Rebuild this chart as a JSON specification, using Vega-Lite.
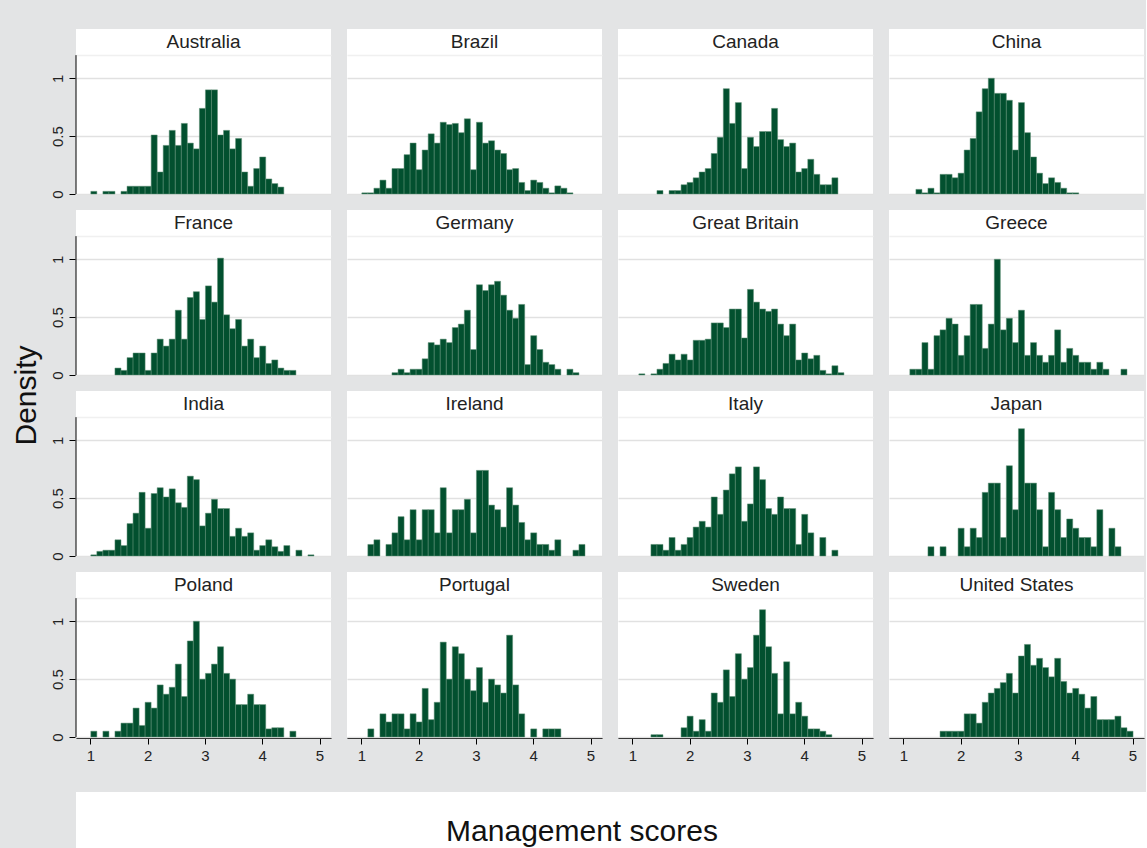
{
"$schema": "https://vega.github.io/schema/vega-lite/v6.json",
"background": "#e3e4e5",
"padding": {"left": 12, "top": 28, "right": 0, "bottom": 0},
"config": {"view": {"stroke": null, "fill": "white"}, "font": "Liberation Sans", "header": {"labels": false, "title": null}, "headerFacet": {"labels": false, "title": null}},
"concat": [
{
"data": {"values": [
{"country":"Australia","score":1.000,"density":0.023},{"country":"Australia","score":1.211,"density":0.023},{"country":"Australia","score":1.316,"density":0.023},{"country":"Australia","score":1.526,"density":0.023},{"country":"Australia","score":1.632,"density":0.067},{"country":"Australia","score":1.737,"density":0.067},{"country":"Australia","score":1.842,"density":0.067},{"country":"Australia","score":1.947,"density":0.067},{"country":"Australia","score":2.053,"density":0.51},{"country":"Australia","score":2.158,"density":0.19},{"country":"Australia","score":2.263,"density":0.42},{"country":"Australia","score":2.368,"density":0.55},{"country":"Australia","score":2.474,"density":0.42},{"country":"Australia","score":2.579,"density":0.61},{"country":"Australia","score":2.684,"density":0.44},{"country":"Australia","score":2.789,"density":0.39},{"country":"Australia","score":2.895,"density":0.74},{"country":"Australia","score":3.000,"density":0.90},{"country":"Australia","score":3.105,"density":0.90},{"country":"Australia","score":3.211,"density":0.51},{"country":"Australia","score":3.316,"density":0.55},{"country":"Australia","score":3.421,"density":0.39},{"country":"Australia","score":3.526,"density":0.48},{"country":"Australia","score":3.632,"density":0.19},{"country":"Australia","score":3.737,"density":0.067},{"country":"Australia","score":3.842,"density":0.22},{"country":"Australia","score":3.947,"density":0.32},{"country":"Australia","score":4.053,"density":0.13},{"country":"Australia","score":4.158,"density":0.09},{"country":"Australia","score":4.263,"density":0.06},
{"country":"Brazil","score":1.000,"density":0.01},{"country":"Brazil","score":1.105,"density":0.01},{"country":"Brazil","score":1.211,"density":0.05},{"country":"Brazil","score":1.316,"density":0.12},{"country":"Brazil","score":1.421,"density":0.05},{"country":"Brazil","score":1.526,"density":0.22},{"country":"Brazil","score":1.632,"density":0.22},{"country":"Brazil","score":1.737,"density":0.34},{"country":"Brazil","score":1.842,"density":0.44},{"country":"Brazil","score":1.947,"density":0.21},{"country":"Brazil","score":2.053,"density":0.38},{"country":"Brazil","score":2.158,"density":0.52},{"country":"Brazil","score":2.263,"density":0.44},{"country":"Brazil","score":2.368,"density":0.62},{"country":"Brazil","score":2.474,"density":0.60},{"country":"Brazil","score":2.579,"density":0.61},{"country":"Brazil","score":2.684,"density":0.53},{"country":"Brazil","score":2.789,"density":0.65},{"country":"Brazil","score":2.895,"density":0.21},{"country":"Brazil","score":3.000,"density":0.62},{"country":"Brazil","score":3.105,"density":0.44},{"country":"Brazil","score":3.211,"density":0.46},{"country":"Brazil","score":3.316,"density":0.38},{"country":"Brazil","score":3.421,"density":0.35},{"country":"Brazil","score":3.526,"density":0.21},{"country":"Brazil","score":3.632,"density":0.22},{"country":"Brazil","score":3.737,"density":0.10},{"country":"Brazil","score":3.842,"density":0.03},{"country":"Brazil","score":3.947,"density":0.12},{"country":"Brazil","score":4.053,"density":0.10},{"country":"Brazil","score":4.158,"density":0.05},{"country":"Brazil","score":4.263,"density":0.01},{"country":"Brazil","score":4.368,"density":0.07},{"country":"Brazil","score":4.474,"density":0.05},{"country":"Brazil","score":4.579,"density":0.01},
{"country":"Canada","score":1.421,"density":0.03},{"country":"Canada","score":1.632,"density":0.03},{"country":"Canada","score":1.737,"density":0.03},{"country":"Canada","score":1.842,"density":0.08},{"country":"Canada","score":1.947,"density":0.10},{"country":"Canada","score":2.053,"density":0.14},{"country":"Canada","score":2.158,"density":0.19},{"country":"Canada","score":2.263,"density":0.22},{"country":"Canada","score":2.368,"density":0.35},{"country":"Canada","score":2.474,"density":0.49},{"country":"Canada","score":2.579,"density":0.91},{"country":"Canada","score":2.684,"density":0.61},{"country":"Canada","score":2.789,"density":0.79},{"country":"Canada","score":2.895,"density":0.22},{"country":"Canada","score":3.000,"density":0.49},{"country":"Canada","score":3.105,"density":0.41},{"country":"Canada","score":3.211,"density":0.54},{"country":"Canada","score":3.316,"density":0.54},{"country":"Canada","score":3.421,"density":0.74},{"country":"Canada","score":3.526,"density":0.47},{"country":"Canada","score":3.632,"density":0.41},{"country":"Canada","score":3.737,"density":0.44},{"country":"Canada","score":3.842,"density":0.19},{"country":"Canada","score":3.947,"density":0.22},{"country":"Canada","score":4.053,"density":0.30},{"country":"Canada","score":4.158,"density":0.17},{"country":"Canada","score":4.263,"density":0.08},{"country":"Canada","score":4.368,"density":0.08},{"country":"Canada","score":4.474,"density":0.14},
{"country":"China","score":1.211,"density":0.04},{"country":"China","score":1.316,"density":0.01},{"country":"China","score":1.421,"density":0.05},{"country":"China","score":1.526,"density":0.01},{"country":"China","score":1.632,"density":0.17},{"country":"China","score":1.737,"density":0.17},{"country":"China","score":1.842,"density":0.14},{"country":"China","score":1.947,"density":0.18},{"country":"China","score":2.053,"density":0.38},{"country":"China","score":2.158,"density":0.48},{"country":"China","score":2.263,"density":0.71},{"country":"China","score":2.368,"density":0.91},{"country":"China","score":2.474,"density":1.00},{"country":"China","score":2.579,"density":0.87},{"country":"China","score":2.684,"density":0.87},{"country":"China","score":2.789,"density":0.81},{"country":"China","score":2.895,"density":0.38},{"country":"China","score":3.000,"density":0.79},{"country":"China","score":3.105,"density":0.53},{"country":"China","score":3.211,"density":0.32},{"country":"China","score":3.316,"density":0.18},{"country":"China","score":3.421,"density":0.09},{"country":"China","score":3.526,"density":0.14},{"country":"China","score":3.632,"density":0.10},{"country":"China","score":3.737,"density":0.05},{"country":"China","score":3.842,"density":0.01},{"country":"China","score":3.947,"density":0.01},
{"country":"France","score":1.421,"density":0.06},{"country":"France","score":1.526,"density":0.04},{"country":"France","score":1.632,"density":0.15},{"country":"France","score":1.737,"density":0.19},{"country":"France","score":1.842,"density":0.19},{"country":"France","score":1.947,"density":0.04},{"country":"France","score":2.053,"density":0.19},{"country":"France","score":2.158,"density":0.31},{"country":"France","score":2.263,"density":0.25},{"country":"France","score":2.368,"density":0.31},{"country":"France","score":2.474,"density":0.56},{"country":"France","score":2.579,"density":0.31},{"country":"France","score":2.684,"density":0.67},{"country":"France","score":2.789,"density":0.72},{"country":"France","score":2.895,"density":0.48},{"country":"France","score":3.000,"density":0.77},{"country":"France","score":3.105,"density":0.63},{"country":"France","score":3.211,"density":1.01},{"country":"France","score":3.316,"density":0.52},{"country":"France","score":3.421,"density":0.40},{"country":"France","score":3.526,"density":0.48},{"country":"France","score":3.632,"density":0.25},{"country":"France","score":3.737,"density":0.31},{"country":"France","score":3.842,"density":0.15},{"country":"France","score":3.947,"density":0.25},{"country":"France","score":4.053,"density":0.10},{"country":"France","score":4.158,"density":0.13},{"country":"France","score":4.263,"density":0.06},{"country":"France","score":4.368,"density":0.04},{"country":"France","score":4.474,"density":0.04},
{"country":"Germany","score":1.526,"density":0.02},{"country":"Germany","score":1.632,"density":0.05},{"country":"Germany","score":1.737,"density":0.02},{"country":"Germany","score":1.842,"density":0.05},{"country":"Germany","score":1.947,"density":0.05},{"country":"Germany","score":2.053,"density":0.14},{"country":"Germany","score":2.158,"density":0.28},{"country":"Germany","score":2.263,"density":0.26},{"country":"Germany","score":2.368,"density":0.31},{"country":"Germany","score":2.474,"density":0.28},{"country":"Germany","score":2.579,"density":0.41},{"country":"Germany","score":2.684,"density":0.44},{"country":"Germany","score":2.789,"density":0.56},{"country":"Germany","score":2.895,"density":0.22},{"country":"Germany","score":3.000,"density":0.78},{"country":"Germany","score":3.105,"density":0.73},{"country":"Germany","score":3.211,"density":0.78},{"country":"Germany","score":3.316,"density":0.81},{"country":"Germany","score":3.421,"density":0.69},{"country":"Germany","score":3.526,"density":0.56},{"country":"Germany","score":3.632,"density":0.49},{"country":"Germany","score":3.737,"density":0.61},{"country":"Germany","score":3.842,"density":0.09},{"country":"Germany","score":3.947,"density":0.34},{"country":"Germany","score":4.053,"density":0.22},{"country":"Germany","score":4.158,"density":0.11},{"country":"Germany","score":4.263,"density":0.09},{"country":"Germany","score":4.368,"density":0.05},{"country":"Germany","score":4.579,"density":0.05},{"country":"Germany","score":4.684,"density":0.02},
{"country":"Great Britain","score":1.105,"density":0.01},{"country":"Great Britain","score":1.316,"density":0.01},{"country":"Great Britain","score":1.421,"density":0.05},{"country":"Great Britain","score":1.526,"density":0.10},{"country":"Great Britain","score":1.632,"density":0.18},{"country":"Great Britain","score":1.737,"density":0.13},{"country":"Great Britain","score":1.842,"density":0.18},{"country":"Great Britain","score":1.947,"density":0.13},{"country":"Great Britain","score":2.053,"density":0.30},{"country":"Great Britain","score":2.158,"density":0.30},{"country":"Great Britain","score":2.263,"density":0.31},{"country":"Great Britain","score":2.368,"density":0.45},{"country":"Great Britain","score":2.474,"density":0.45},{"country":"Great Britain","score":2.579,"density":0.41},{"country":"Great Britain","score":2.684,"density":0.57},{"country":"Great Britain","score":2.789,"density":0.57},{"country":"Great Britain","score":2.895,"density":0.32},{"country":"Great Britain","score":3.000,"density":0.74},{"country":"Great Britain","score":3.105,"density":0.63},{"country":"Great Britain","score":3.211,"density":0.57},{"country":"Great Britain","score":3.316,"density":0.55},{"country":"Great Britain","score":3.421,"density":0.57},{"country":"Great Britain","score":3.526,"density":0.44},{"country":"Great Britain","score":3.632,"density":0.34},{"country":"Great Britain","score":3.737,"density":0.44},{"country":"Great Britain","score":3.842,"density":0.13},{"country":"Great Britain","score":3.947,"density":0.19},{"country":"Great Britain","score":4.053,"density":0.14},{"country":"Great Britain","score":4.158,"density":0.17},{"country":"Great Britain","score":4.263,"density":0.04},{"country":"Great Britain","score":4.368,"density":0.01},{"country":"Great Britain","score":4.474,"density":0.08},{"country":"Great Britain","score":4.579,"density":0.02},
{"country":"Greece","score":1.105,"density":0.05},{"country":"Greece","score":1.211,"density":0.05},{"country":"Greece","score":1.316,"density":0.28},{"country":"Greece","score":1.421,"density":0.05},{"country":"Greece","score":1.526,"density":0.34},{"country":"Greece","score":1.632,"density":0.39},{"country":"Greece","score":1.737,"density":0.49},{"country":"Greece","score":1.842,"density":0.44},{"country":"Greece","score":1.947,"density":0.17},{"country":"Greece","score":2.053,"density":0.34},{"country":"Greece","score":2.158,"density":0.61},{"country":"Greece","score":2.263,"density":0.61},{"country":"Greece","score":2.368,"density":0.23},{"country":"Greece","score":2.474,"density":0.44},{"country":"Greece","score":2.579,"density":1.00},{"country":"Greece","score":2.684,"density":0.39},{"country":"Greece","score":2.789,"density":0.49},{"country":"Greece","score":2.895,"density":0.28},{"country":"Greece","score":3.000,"density":0.56},{"country":"Greece","score":3.105,"density":0.17},{"country":"Greece","score":3.211,"density":0.28},{"country":"Greece","score":3.316,"density":0.17},{"country":"Greece","score":3.421,"density":0.11},{"country":"Greece","score":3.526,"density":0.17},{"country":"Greece","score":3.632,"density":0.39},{"country":"Greece","score":3.737,"density":0.11},{"country":"Greece","score":3.842,"density":0.23},{"country":"Greece","score":3.947,"density":0.17},{"country":"Greece","score":4.053,"density":0.11},{"country":"Greece","score":4.158,"density":0.11},{"country":"Greece","score":4.263,"density":0.05},{"country":"Greece","score":4.368,"density":0.11},{"country":"Greece","score":4.474,"density":0.05},{"country":"Greece","score":4.789,"density":0.05},
{"country":"India","score":1.000,"density":0.01},{"country":"India","score":1.105,"density":0.04},{"country":"India","score":1.211,"density":0.05},{"country":"India","score":1.316,"density":0.05},{"country":"India","score":1.421,"density":0.14},{"country":"India","score":1.526,"density":0.09},{"country":"India","score":1.632,"density":0.28},{"country":"India","score":1.737,"density":0.37},{"country":"India","score":1.842,"density":0.55},{"country":"India","score":1.947,"density":0.24},{"country":"India","score":2.053,"density":0.54},{"country":"India","score":2.158,"density":0.59},{"country":"India","score":2.263,"density":0.51},{"country":"India","score":2.368,"density":0.58},{"country":"India","score":2.474,"density":0.46},{"country":"India","score":2.579,"density":0.42},{"country":"India","score":2.684,"density":0.69},{"country":"India","score":2.789,"density":0.66},{"country":"India","score":2.895,"density":0.26},{"country":"India","score":3.000,"density":0.37},{"country":"India","score":3.105,"density":0.49},{"country":"India","score":3.211,"density":0.41},{"country":"India","score":3.316,"density":0.41},{"country":"India","score":3.421,"density":0.17},{"country":"India","score":3.526,"density":0.24},{"country":"India","score":3.632,"density":0.17},{"country":"India","score":3.737,"density":0.20},{"country":"India","score":3.842,"density":0.05},{"country":"India","score":3.947,"density":0.09},{"country":"India","score":4.053,"density":0.14},{"country":"India","score":4.158,"density":0.08},{"country":"India","score":4.263,"density":0.04},{"country":"India","score":4.368,"density":0.09},{"country":"India","score":4.579,"density":0.05},{"country":"India","score":4.789,"density":0.01},
{"country":"Ireland","score":1.105,"density":0.10},{"country":"Ireland","score":1.211,"density":0.14},{"country":"Ireland","score":1.421,"density":0.10},{"country":"Ireland","score":1.526,"density":0.20},{"country":"Ireland","score":1.632,"density":0.34},{"country":"Ireland","score":1.737,"density":0.14},{"country":"Ireland","score":1.842,"density":0.40},{"country":"Ireland","score":1.947,"density":0.14},{"country":"Ireland","score":2.053,"density":0.40},{"country":"Ireland","score":2.158,"density":0.40},{"country":"Ireland","score":2.263,"density":0.20},{"country":"Ireland","score":2.368,"density":0.59},{"country":"Ireland","score":2.474,"density":0.20},{"country":"Ireland","score":2.579,"density":0.40},{"country":"Ireland","score":2.684,"density":0.40},{"country":"Ireland","score":2.789,"density":0.49},{"country":"Ireland","score":2.895,"density":0.20},{"country":"Ireland","score":3.000,"density":0.74},{"country":"Ireland","score":3.105,"density":0.74},{"country":"Ireland","score":3.211,"density":0.44},{"country":"Ireland","score":3.316,"density":0.40},{"country":"Ireland","score":3.421,"density":0.25},{"country":"Ireland","score":3.526,"density":0.59},{"country":"Ireland","score":3.632,"density":0.44},{"country":"Ireland","score":3.737,"density":0.29},{"country":"Ireland","score":3.842,"density":0.14},{"country":"Ireland","score":3.947,"density":0.20},{"country":"Ireland","score":4.053,"density":0.10},{"country":"Ireland","score":4.158,"density":0.10},{"country":"Ireland","score":4.263,"density":0.05},{"country":"Ireland","score":4.368,"density":0.14},{"country":"Ireland","score":4.684,"density":0.05},{"country":"Ireland","score":4.789,"density":0.10},
{"country":"Italy","score":1.316,"density":0.10},{"country":"Italy","score":1.421,"density":0.10},{"country":"Italy","score":1.526,"density":0.05},{"country":"Italy","score":1.632,"density":0.16},{"country":"Italy","score":1.737,"density":0.05},{"country":"Italy","score":1.842,"density":0.10},{"country":"Italy","score":1.947,"density":0.16},{"country":"Italy","score":2.053,"density":0.25},{"country":"Italy","score":2.158,"density":0.30},{"country":"Italy","score":2.263,"density":0.25},{"country":"Italy","score":2.368,"density":0.51},{"country":"Italy","score":2.474,"density":0.36},{"country":"Italy","score":2.579,"density":0.57},{"country":"Italy","score":2.684,"density":0.71},{"country":"Italy","score":2.789,"density":0.77},{"country":"Italy","score":2.895,"density":0.30},{"country":"Italy","score":3.000,"density":0.45},{"country":"Italy","score":3.105,"density":0.77},{"country":"Italy","score":3.211,"density":0.66},{"country":"Italy","score":3.316,"density":0.41},{"country":"Italy","score":3.421,"density":0.36},{"country":"Italy","score":3.526,"density":0.51},{"country":"Italy","score":3.632,"density":0.41},{"country":"Italy","score":3.737,"density":0.41},{"country":"Italy","score":3.842,"density":0.10},{"country":"Italy","score":3.947,"density":0.36},{"country":"Italy","score":4.053,"density":0.20},{"country":"Italy","score":4.263,"density":0.16},{"country":"Italy","score":4.474,"density":0.05},
{"country":"Japan","score":1.421,"density":0.08},{"country":"Japan","score":1.632,"density":0.08},{"country":"Japan","score":1.947,"density":0.24},{"country":"Japan","score":2.053,"density":0.08},{"country":"Japan","score":2.158,"density":0.24},{"country":"Japan","score":2.263,"density":0.16},{"country":"Japan","score":2.368,"density":0.55},{"country":"Japan","score":2.474,"density":0.63},{"country":"Japan","score":2.579,"density":0.63},{"country":"Japan","score":2.684,"density":0.16},{"country":"Japan","score":2.789,"density":0.78},{"country":"Japan","score":2.895,"density":0.40},{"country":"Japan","score":3.000,"density":1.10},{"country":"Japan","score":3.105,"density":0.63},{"country":"Japan","score":3.211,"density":0.63},{"country":"Japan","score":3.316,"density":0.40},{"country":"Japan","score":3.421,"density":0.08},{"country":"Japan","score":3.526,"density":0.55},{"country":"Japan","score":3.632,"density":0.40},{"country":"Japan","score":3.737,"density":0.16},{"country":"Japan","score":3.842,"density":0.32},{"country":"Japan","score":3.947,"density":0.24},{"country":"Japan","score":4.053,"density":0.16},{"country":"Japan","score":4.158,"density":0.16},{"country":"Japan","score":4.263,"density":0.08},{"country":"Japan","score":4.368,"density":0.40},{"country":"Japan","score":4.579,"density":0.24},{"country":"Japan","score":4.684,"density":0.08},
{"country":"Poland","score":1.000,"density":0.05},{"country":"Poland","score":1.211,"density":0.05},{"country":"Poland","score":1.421,"density":0.05},{"country":"Poland","score":1.526,"density":0.12},{"country":"Poland","score":1.632,"density":0.12},{"country":"Poland","score":1.737,"density":0.25},{"country":"Poland","score":1.842,"density":0.10},{"country":"Poland","score":1.947,"density":0.30},{"country":"Poland","score":2.053,"density":0.25},{"country":"Poland","score":2.158,"density":0.45},{"country":"Poland","score":2.263,"density":0.37},{"country":"Poland","score":2.368,"density":0.43},{"country":"Poland","score":2.474,"density":0.63},{"country":"Poland","score":2.579,"density":0.35},{"country":"Poland","score":2.684,"density":0.83},{"country":"Poland","score":2.789,"density":1.00},{"country":"Poland","score":2.895,"density":0.50},{"country":"Poland","score":3.000,"density":0.55},{"country":"Poland","score":3.105,"density":0.63},{"country":"Poland","score":3.211,"density":0.78},{"country":"Poland","score":3.316,"density":0.55},{"country":"Poland","score":3.421,"density":0.50},{"country":"Poland","score":3.526,"density":0.28},{"country":"Poland","score":3.632,"density":0.28},{"country":"Poland","score":3.737,"density":0.37},{"country":"Poland","score":3.842,"density":0.28},{"country":"Poland","score":3.947,"density":0.28},{"country":"Poland","score":4.053,"density":0.07},{"country":"Poland","score":4.158,"density":0.08},{"country":"Poland","score":4.263,"density":0.08},{"country":"Poland","score":4.474,"density":0.05},
{"country":"Portugal","score":1.105,"density":0.07},{"country":"Portugal","score":1.316,"density":0.20},{"country":"Portugal","score":1.421,"density":0.13},{"country":"Portugal","score":1.526,"density":0.20},{"country":"Portugal","score":1.632,"density":0.20},{"country":"Portugal","score":1.737,"density":0.07},{"country":"Portugal","score":1.842,"density":0.20},{"country":"Portugal","score":1.947,"density":0.13},{"country":"Portugal","score":2.053,"density":0.42},{"country":"Portugal","score":2.158,"density":0.15},{"country":"Portugal","score":2.263,"density":0.30},{"country":"Portugal","score":2.368,"density":0.82},{"country":"Portugal","score":2.474,"density":0.50},{"country":"Portugal","score":2.579,"density":0.78},{"country":"Portugal","score":2.684,"density":0.72},{"country":"Portugal","score":2.789,"density":0.50},{"country":"Portugal","score":2.895,"density":0.40},{"country":"Portugal","score":3.000,"density":0.60},{"country":"Portugal","score":3.105,"density":0.30},{"country":"Portugal","score":3.211,"density":0.50},{"country":"Portugal","score":3.316,"density":0.45},{"country":"Portugal","score":3.421,"density":0.38},{"country":"Portugal","score":3.526,"density":0.88},{"country":"Portugal","score":3.632,"density":0.45},{"country":"Portugal","score":3.737,"density":0.20},{"country":"Portugal","score":3.947,"density":0.07},{"country":"Portugal","score":4.158,"density":0.07},{"country":"Portugal","score":4.263,"density":0.07},{"country":"Portugal","score":4.368,"density":0.07},
{"country":"Sweden","score":1.316,"density":0.02},{"country":"Sweden","score":1.421,"density":0.02},{"country":"Sweden","score":1.842,"density":0.08},{"country":"Sweden","score":1.947,"density":0.18},{"country":"Sweden","score":2.053,"density":0.05},{"country":"Sweden","score":2.158,"density":0.15},{"country":"Sweden","score":2.263,"density":0.05},{"country":"Sweden","score":2.368,"density":0.38},{"country":"Sweden","score":2.474,"density":0.30},{"country":"Sweden","score":2.579,"density":0.58},{"country":"Sweden","score":2.684,"density":0.35},{"country":"Sweden","score":2.789,"density":0.72},{"country":"Sweden","score":2.895,"density":0.50},{"country":"Sweden","score":3.000,"density":0.60},{"country":"Sweden","score":3.105,"density":0.88},{"country":"Sweden","score":3.211,"density":1.10},{"country":"Sweden","score":3.316,"density":0.78},{"country":"Sweden","score":3.421,"density":0.55},{"country":"Sweden","score":3.526,"density":0.20},{"country":"Sweden","score":3.632,"density":0.65},{"country":"Sweden","score":3.737,"density":0.20},{"country":"Sweden","score":3.842,"density":0.30},{"country":"Sweden","score":3.947,"density":0.18},{"country":"Sweden","score":4.053,"density":0.07},{"country":"Sweden","score":4.158,"density":0.07},{"country":"Sweden","score":4.263,"density":0.05},{"country":"Sweden","score":4.368,"density":0.02},
{"country":"United States","score":1.632,"density":0.05},{"country":"United States","score":1.737,"density":0.05},{"country":"United States","score":1.842,"density":0.05},{"country":"United States","score":1.947,"density":0.05},{"country":"United States","score":2.053,"density":0.20},{"country":"United States","score":2.158,"density":0.20},{"country":"United States","score":2.263,"density":0.12},{"country":"United States","score":2.368,"density":0.30},{"country":"United States","score":2.474,"density":0.38},{"country":"United States","score":2.579,"density":0.42},{"country":"United States","score":2.684,"density":0.47},{"country":"United States","score":2.789,"density":0.55},{"country":"United States","score":2.895,"density":0.38},{"country":"United States","score":3.000,"density":0.70},{"country":"United States","score":3.105,"density":0.80},{"country":"United States","score":3.211,"density":0.62},{"country":"United States","score":3.316,"density":0.68},{"country":"United States","score":3.421,"density":0.60},{"country":"United States","score":3.526,"density":0.52},{"country":"United States","score":3.632,"density":0.68},{"country":"United States","score":3.737,"density":0.48},{"country":"United States","score":3.842,"density":0.38},{"country":"United States","score":3.947,"density":0.42},{"country":"United States","score":4.053,"density":0.37},{"country":"United States","score":4.158,"density":0.25},{"country":"United States","score":4.263,"density":0.35},{"country":"United States","score":4.368,"density":0.15},{"country":"United States","score":4.474,"density":0.15},{"country":"United States","score":4.579,"density":0.15},{"country":"United States","score":4.684,"density":0.18},{"country":"United States","score":4.789,"density":0.08},{"country":"United States","score":4.895,"density":0.05}
]},
"title": {"text": "Density", "orient": "left", "anchor": "middle", "fontSize": 30, "fontWeight": "normal", "color": "#111111", "offset": 8},
"facet": {"field": "country", "type": "nominal", "header": {"labels": false, "labelExpr": "''", "labelFontSize": 1, "labelPadding": 0, "title": null}},
"columns": 4,
"spacing": {"row": 14, "column": 16},
"spec": {
"width": 255,
"height": 165,
"layer": [
{
"mark": {"type": "bar", "color": "#02502f", "stroke": "#5f8f75", "strokeWidth": 0.5, "binSpacing": 0},
"encoding": {
"x": {"field": "score", "type": "quantitative", "bin": {"binned": true, "step": 0.105263},
"scale": {"domain": [0.75, 5.2], "nice": false, "zero": false},
"axis": {"values": [1, 2, 3, 4, 5], "format": "~g", "title": null, "grid": false, "domainColor": "#000000", "domainWidth": 1, "tickColor": "#000000", "tickSize": 6, "labelFontSize": 15, "labelColor": "#222222", "labelPadding": 4, "labelFlush": false}},
"y": {"field": "density", "type": "quantitative",
"scale": {"domain": [0, 1.426], "nice": false},
"axis": {"values": [0, 0.5, 1, 1.2], "title": null, "grid": true, "domain": false, "format": "~g",
"gridColor": {"condition": {"test": "datum.value > 1.1", "value": "#f0f0f0"}, "value": "#e1e1e1"}, "gridWidth": 1.3,
"tickColor": "#000000", "tickSize": 6, "tickOpacity": {"condition": {"test": "datum.value > 1.1", "value": 0}, "value": 1},
"labelExpr": "datum.value > 1.1 ? '' : datum.label", "labelAngle": -90, "labelAlign": "center", "labelBaseline": "bottom",
"labelFontSize": 15, "labelColor": "#222222", "labelPadding": 4, "labelFlush": false}}
}
},
{
"transform": [{"filter": {"field": "country", "oneOf": ["Australia", "France", "India", "Poland"]}}, {"aggregate": [{"op": "count", "as": "n"}], "groupby": ["country"]}],
"mark": {"type": "rule", "color": "#000000", "strokeWidth": 1},
"encoding": {"x": {"datum": 0.75}, "y": {"datum": 0}, "y2": {"datum": 1.2}}
},
{
"transform": [{"aggregate": [{"op": "count", "as": "n"}], "groupby": ["country"]}],
"mark": {"type": "text", "fontSize": 19, "color": "#222222", "baseline": "middle", "align": "center"},
"encoding": {"x": {"datum": 2.975}, "y": {"datum": 1.313}, "text": {"field": "country", "type": "nominal"}}
}
]
}
},
{
"width": 1070,
"height": 58,
"view": {"fill": "white", "stroke": null},
"data": {"values": [{"label": "Management scores"}]},
"layer": [
{"mark": {"type": "rect", "color": "white"}, "encoding": {}},
{"mark": {"type": "text", "fontSize": 30, "color": "#111111", "baseline": "middle", "dy": 11, "dx": -29},
"encoding": {"text": {"field": "label", "type": "nominal"}}}
]
}
],
"columns": 1,
"align": "none",
"spacing": 29
}
